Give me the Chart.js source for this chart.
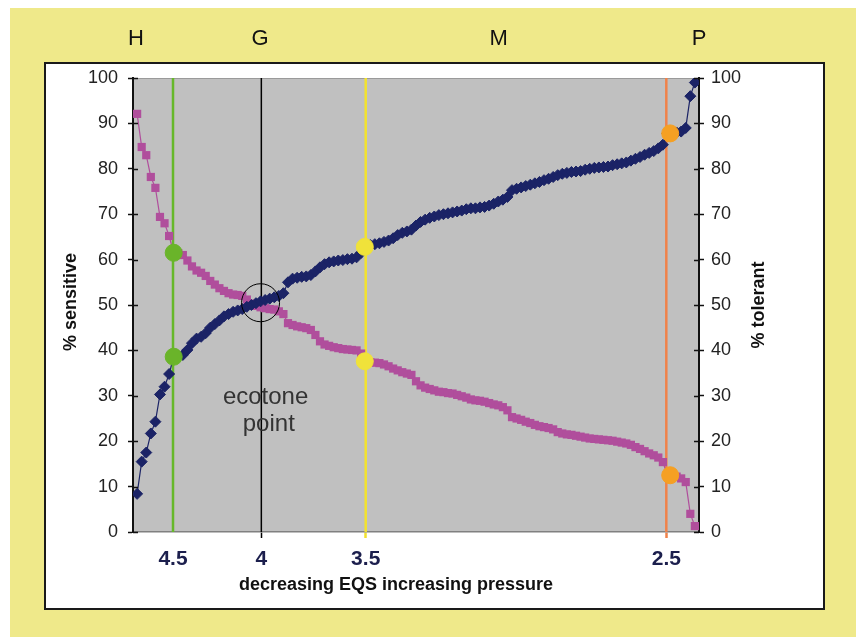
<!DOCTYPE html>
<html>
<head>
<meta charset="utf-8">
<script src="https://cdn.jsdelivr.net/npm/chart.js@4.4.1/dist/chart.umd.min.js"></script>
<style>
  html, body { margin: 0; padding: 0; background: #fff; }
  #frame { position: absolute; left: 10px; top: 8px; width: 846px; height: 629px; background: #efe98a; }
  #box { position: absolute; left: 44px; top: 62px; width: 777px; height: 544px; background: #fff; border: 2px solid #1a1a1a; }
  #wrap { position: absolute; left: 0; top: 0; width: 856px; height: 637px; }
</style>
</head>
<body>
<div id="frame"></div>
<div id="box"></div>
<div id="wrap"><canvas id="chart" width="856" height="637"></canvas></div>
<script>
// % sensitive taxa per site (sites ranked by decreasing EQS)
const sensitive = [92.1, 84.8, 83.0, 78.2, 75.8, 69.4, 68.0, 65.2, 61.5, 61.4,
  61.0, 59.8, 58.5, 57.6, 57.1, 56.4, 55.3, 54.5, 53.7, 53.1,
  52.6, 52.3, 52.2, 52.0, 51.2, 50.3, 49.8, 49.5, 49.3, 49.1,
  49.0, 48.6, 48.0, 46.0, 45.6, 45.3, 45.1, 44.9, 44.5, 43.4,
  42.0, 41.3, 41.0, 40.7, 40.5, 40.3, 40.2, 40.1, 40.0, 39.3,
  37.6, 37.4, 37.3, 37.2, 36.9, 36.5, 36.0, 35.6, 35.2, 34.9,
  34.6, 33.2, 32.3, 31.8, 31.5, 31.2, 30.9, 30.8, 30.6, 30.5,
  30.2, 29.9, 29.6, 29.2, 29.0, 28.9, 28.7, 28.4, 28.1, 27.9,
  27.5, 26.8, 25.3, 25.0, 24.7, 24.3, 24.0, 23.6, 23.3, 23.1,
  22.9, 22.6, 22.0, 21.7, 21.5, 21.4, 21.2, 21.0, 20.8, 20.6,
  20.5, 20.4, 20.3, 20.2, 20.1, 19.9, 19.7, 19.5, 19.2, 18.7,
  18.3, 17.8, 17.3, 16.9, 16.4, 15.4, 12.5, 12.4, 12.2, 11.8,
  11.0, 4.0, 1.3];

// % tolerant taxa per site
const tolerant = [8.4, 15.5, 17.5, 21.7, 24.3, 30.3, 32.0, 34.8, 38.6, 38.8,
  39.0, 40.1, 41.6, 42.6, 43.0, 43.8, 45.0, 45.8, 46.6, 47.5,
  48.0, 48.5, 48.8, 49.1, 49.6, 50.0, 50.4, 50.8, 51.1, 51.4,
  51.7, 52.0, 52.6, 55.0, 55.8, 56.0, 56.2, 56.3, 56.6, 57.4,
  58.3, 59.0, 59.4, 59.6, 59.8, 59.9, 60.1, 60.2, 60.5, 61.5,
  62.8, 63.2, 63.4, 63.6, 63.9, 64.2, 64.7, 65.4, 65.9, 66.2,
  66.6, 67.5, 68.3, 68.8, 69.2, 69.5, 69.8, 70.0, 70.2, 70.4,
  70.6, 70.8, 71.1, 71.3, 71.3, 71.5, 71.6, 71.9, 72.3, 72.8,
  73.2, 73.8, 75.3, 75.6, 75.9, 76.2, 76.5, 76.8, 77.1, 77.5,
  77.8, 78.2, 78.6, 78.9, 79.1, 79.3, 79.4, 79.5, 79.8, 80.0,
  80.2, 80.3, 80.4, 80.5, 80.8, 81.0, 81.2, 81.4, 81.8, 82.2,
  82.6, 83.1, 83.5, 83.9, 84.5, 85.3, 87.8, 87.9, 88.0, 88.2,
  89.0, 96.0, 99.0];

// EQS boundaries (position in site rank) and their labels
const boundaryPos = [7.85, 27.17, 50.0, 115.75];
const boundaryLabels = ['4.5', '4', '3.5', '2.5'];
const boundaryColors = ['#66b82a', '#000000', '#f2e22e', '#f0824a'];

// class letters along the top
const classPos = [-0.24, 26.9, 79.1, 122.9];
const classLabels = ['H', 'G', 'M', 'P'];

// highlighted crossing points on each boundary
const greenMarks = [{x: 8, y: 61.5}, {x: 8, y: 38.6}];
const yellowMarks = [{x: 49.8, y: 62.8}, {x: 49.8, y: 37.6}];
const orangeMarks = [{x: 116.6, y: 87.8}, {x: 116.6, y: 12.5}];
const ecotone = [{x: 27.0, y: 50.5}];

const yTicks = [0, 10, 20, 30, 40, 50, 60, 70, 80, 90, 100];

Chart.defaults.font.family = "'Liberation Sans', Arial, sans-serif";
Chart.defaults.color = '#222';

const pink = '#b04e9c';
const navy = '#1b2366';

const boundaryLines = boundaryPos.map((p, i) => ({
  type: 'line',
  data: [{x: p, y: 0}, {x: p, y: 100}],
  borderColor: boundaryColors[i],
  borderWidth: i === 1 ? 1.5 : 2.5,
  pointRadius: 0,
  order: 5
}));

const decor = {
  id: 'decor',
  beforeDraw(chart) {
    const {ctx, chartArea: a} = chart;
    ctx.save();
    ctx.fillStyle = '#c0c0c0';
    ctx.fillRect(a.left, a.top, a.right - a.left, a.bottom - a.top);
    ctx.strokeStyle = '#9a9a9a';
    ctx.lineWidth = 1;
    ctx.beginPath();
    ctx.moveTo(a.left, a.top + 0.5);
    ctx.lineTo(a.right, a.top + 0.5);
    ctx.stroke();
    ctx.restore();
  },
  afterDraw(chart) {
    const {ctx, chartArea: a, scales} = chart;
    ctx.save();
    // inner half of the y tick marks
    ctx.strokeStyle = '#111';
    ctx.lineWidth = 1.5;
    scales.y.ticks.forEach(t => {
      const py = Math.round(scales.y.getPixelForValue(t.value)) + 0.5;
      ctx.beginPath(); ctx.moveTo(a.left, py); ctx.lineTo(a.left + 5, py); ctx.stroke();
    });
    scales.y2.ticks.forEach(t => {
      const py = Math.round(scales.y2.getPixelForValue(t.value)) + 0.5;
      ctx.beginPath(); ctx.moveTo(a.right - 5, py); ctx.lineTo(a.right, py); ctx.stroke();
    });

    // ecotone note
    ctx.fillStyle = '#333';
    ctx.font = "24px 'Liberation Sans', Arial";
    ctx.textAlign = 'center';
    ctx.textBaseline = 'middle';
    ctx.fillText('ecotone', scales.x.getPixelForValue(28.1), scales.y.getPixelForValue(29.7));
    ctx.fillText('point', scales.x.getPixelForValue(28.8), scales.y.getPixelForValue(23.6));

    // axis titles
    ctx.fillStyle = '#111';
    ctx.font = "bold 18px 'Liberation Sans', Arial";
    ctx.fillText('decreasing EQS increasing pressure', 396, 585);
    ctx.save();
    ctx.translate(71, 302);
    ctx.rotate(-Math.PI / 2);
    ctx.fillText('% sensitive', 0, 0);
    ctx.restore();
    ctx.save();
    ctx.translate(759, 305);
    ctx.rotate(-Math.PI / 2);
    ctx.fillText('% tolerant', 0, 0);
    ctx.restore();
    ctx.restore();
  }
};

new Chart(document.getElementById('chart'), {
  type: 'line',
  data: {
    datasets: [
      {
        type: 'scatter',
        data: ecotone,
        pointStyle: 'circle',
        pointRadius: 19,
        backgroundColor: 'rgba(0,0,0,0)',
        borderColor: '#000',
        borderWidth: 1,
        order: 0
      },
      {
        type: 'scatter',
        data: greenMarks,
        pointRadius: 8.5,
        backgroundColor: '#6ab42a',
        borderColor: '#6ab42a',
        order: 1
      },
      {
        type: 'scatter',
        data: yellowMarks,
        pointRadius: 8.5,
        backgroundColor: '#f0e23a',
        borderColor: '#f0e23a',
        order: 1
      },
      {
        type: 'scatter',
        data: orangeMarks,
        pointRadius: 8.5,
        backgroundColor: '#f5a023',
        borderColor: '#f5a023',
        order: 1
      },
      {
        label: '% tolerant',
        data: tolerant.map((v, i) => ({x: i, y: v})),
        yAxisID: 'y2',
        borderColor: navy,
        backgroundColor: navy,
        borderWidth: 1.2,
        pointStyle: 'rectRot',
        pointRadius: 5.5,
        pointBorderWidth: 1,
        order: 2
      },
      {
        label: '% sensitive',
        data: sensitive.map((v, i) => ({x: i, y: v})),
        yAxisID: 'y',
        borderColor: pink,
        backgroundColor: pink,
        borderWidth: 1.2,
        pointStyle: 'rect',
        pointRadius: 5.8,
        pointBorderWidth: 0,
        order: 3
      },
      ...boundaryLines
    ]
  },
  options: {
    responsive: false,
    animation: false,
    layout: { padding: 0 },
    plugins: { legend: { display: false }, tooltip: { enabled: false } },
    scales: {
      x: {
        type: 'linear',
        position: 'bottom',
        min: -0.9,
        max: 122.9,
        afterFit: s => { s.height = 105; },
        afterBuildTicks: s => { s.ticks = boundaryPos.map(v => ({value: v})); },
        border: { display: true, color: '#808080', width: 1.5 },
        grid: {
          display: true,
          drawOnChartArea: false,
          drawTicks: true,
          tickLength: 6,
          tickColor: c => boundaryColors[c.index] === '#66b82a' ? 'rgba(0,0,0,0)' : boundaryColors[c.index],
          tickWidth: c => c.index === 1 ? 1.5 : 2.5
        },
        ticks: {
          autoSkip: false,
          maxRotation: 0,
          padding: 9,
          color: '#1c1f4d',
          font: { size: 21, weight: 'bold' },
          callback: (v, i) => boundaryLabels[i]
        }
      },
      x2: {
        type: 'linear',
        position: 'top',
        min: -0.9,
        max: 122.9,
        afterFit: s => { s.height = 78; },
        afterBuildTicks: s => { s.ticks = classPos.map(v => ({value: v})); },
        border: { display: false },
        grid: { display: false },
        ticks: {
          autoSkip: false,
          maxRotation: 0,
          padding: 18,
          color: '#111',
          font: { size: 22 },
          callback: (v, i) => classLabels[i]
        }
      },
      y: {
        position: 'left',
        min: 0,
        max: 100,
        afterFit: s => { s.width = 133; },
        afterBuildTicks: s => { s.ticks = yTicks.map(v => ({value: v})); },
        border: { display: true, color: '#111', width: 2 },
        grid: { drawOnChartArea: false, tickLength: 5, tickColor: '#111', tickWidth: 1.5 },
        ticks: { padding: 10, font: { size: 18 }, color: '#222' }
      },
      y2: {
        position: 'right',
        min: 0,
        max: 100,
        afterFit: s => { s.width = 157; },
        afterBuildTicks: s => { s.ticks = yTicks.map(v => ({value: v})); },
        border: { display: true, color: '#111', width: 2 },
        grid: { drawOnChartArea: false, tickLength: 5, tickColor: '#111', tickWidth: 1.5 },
        ticks: { padding: 7, font: { size: 18 }, color: '#222' }
      }
    }
  },
  plugins: [decor]
});
</script>
</body>
</html>
